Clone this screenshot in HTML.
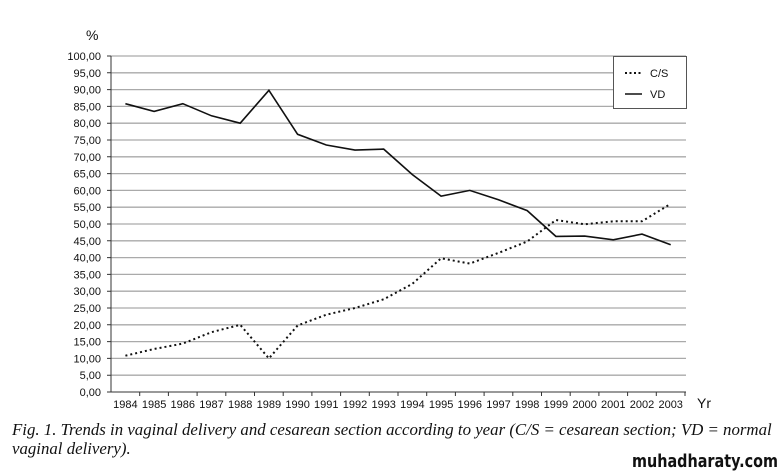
<!DOCTYPE html>
<html><head><meta charset="utf-8"><style>
body{margin:0;background:#fff;width:780px;height:473px;overflow:hidden;position:relative}
.cap{position:absolute;left:12px;font-family:"Liberation Serif",serif;font-style:italic;font-size:17px;white-space:nowrap;transform-origin:0 0;color:#111}
</style></head><body>
<svg width="780" height="473" style="position:absolute;left:0;top:0" font-family="Liberation Sans, sans-serif" font-size="11">
<g stroke="#aaa" stroke-width="1.3">
<line x1="111" x2="686" y1="56" y2="56"/><line x1="111" x2="686" y1="72.8" y2="72.8"/><line x1="111" x2="686" y1="89.6" y2="89.6"/><line x1="111" x2="686" y1="106.4" y2="106.4"/><line x1="111" x2="686" y1="123.2" y2="123.2"/><line x1="111" x2="686" y1="140" y2="140"/><line x1="111" x2="686" y1="156.8" y2="156.8"/><line x1="111" x2="686" y1="173.6" y2="173.6"/><line x1="111" x2="686" y1="190.4" y2="190.4"/><line x1="111" x2="686" y1="207.2" y2="207.2"/><line x1="111" x2="686" y1="224" y2="224"/><line x1="111" x2="686" y1="240.8" y2="240.8"/><line x1="111" x2="686" y1="257.6" y2="257.6"/><line x1="111" x2="686" y1="274.4" y2="274.4"/><line x1="111" x2="686" y1="291.2" y2="291.2"/><line x1="111" x2="686" y1="308" y2="308"/><line x1="111" x2="686" y1="324.8" y2="324.8"/><line x1="111" x2="686" y1="341.6" y2="341.6"/><line x1="111" x2="686" y1="358.4" y2="358.4"/><line x1="111" x2="686" y1="375.2" y2="375.2"/>
</g>
<g stroke="#333" stroke-width="1">
<line x1="111" x2="111" y1="56" y2="392"/><line x1="111" x2="686" y1="392" y2="392"/>
<path d="M139.7 392v4M168.4 392v4M197.1 392v4M225.8 392v4M254.5 392v4M283.2 392v4M311.9 392v4M340.6 392v4M369.3 392v4M398 392v4M426.7 392v4M455.4 392v4M484.1 392v4M512.8 392v4M541.5 392v4M570.2 392v4M598.9 392v4M627.6 392v4M656.3 392v4M685 392v4M107 392h4M107 375.2h4M107 358.4h4M107 341.6h4M107 324.8h4M107 308h4M107 291.2h4M107 274.4h4M107 257.6h4M107 240.8h4M107 224h4M107 207.2h4M107 190.4h4M107 173.6h4M107 156.8h4M107 140h4M107 123.2h4M107 106.4h4M107 89.6h4M107 72.8h4M107 56h4"/>
</g>
<g fill="#111" text-anchor="end">
<text x="101" y="60">100,00</text><text x="101" y="76.8">95,00</text><text x="101" y="93.6">90,00</text><text x="101" y="110.4">85,00</text><text x="101" y="127.2">80,00</text><text x="101" y="144">75,00</text><text x="101" y="160.8">70,00</text><text x="101" y="177.6">65,00</text><text x="101" y="194.4">60,00</text><text x="101" y="211.2">55,00</text><text x="101" y="228">50,00</text><text x="101" y="244.8">45,00</text><text x="101" y="261.6">40,00</text><text x="101" y="278.4">35,00</text><text x="101" y="295.2">30,00</text><text x="101" y="312">25,00</text><text x="101" y="328.8">20,00</text><text x="101" y="345.6">15,00</text><text x="101" y="362.4">10,00</text><text x="101" y="379.2">5,00</text><text x="101" y="396">0,00</text>
</g>
<text x="86" y="40" font-size="14" fill="#111">%</text>
<text x="697" y="408" font-size="14" fill="#111">Yr</text>
<g fill="#111" text-anchor="middle">
<text x="125.4" y="408">1984</text><text x="154.1" y="408">1985</text><text x="182.8" y="408">1986</text><text x="211.5" y="408">1987</text><text x="240.2" y="408">1988</text><text x="268.9" y="408">1989</text><text x="297.6" y="408">1990</text><text x="326.3" y="408">1991</text><text x="355" y="408">1992</text><text x="383.7" y="408">1993</text><text x="412.4" y="408">1994</text><text x="441.1" y="408">1995</text><text x="469.8" y="408">1996</text><text x="498.5" y="408">1997</text><text x="527.2" y="408">1998</text><text x="555.9" y="408">1999</text><text x="584.6" y="408">2000</text><text x="613.3" y="408">2001</text><text x="642" y="408">2002</text><text x="670.7" y="408">2003</text>
</g>
<polyline fill="none" stroke="#111" stroke-width="1.6" points="125.4,103.7 154.1,111.4 182.8,103.7 211.5,115.8 240.2,123.2 268.9,90.3 297.6,134.3 326.3,145 355,150.1 383.7,149.1 412.4,174.6 441.1,196.1 469.8,190.4 498.5,199.8 527.2,210.6 555.9,236.4 584.6,236.1 613.3,239.8 642,234.1 670.7,244.8"/>
<polyline fill="none" stroke="#111" stroke-width="2" stroke-dasharray="2,3" points="125.4,355.7 154.1,349 182.8,343.6 211.5,332.2 240.2,324.8 268.9,358.4 297.6,325.5 326.3,314.7 355,308 383.7,299.3 412.4,283.8 441.1,258.3 469.8,263.6 498.5,252.9 527.2,241.5 555.9,220 584.6,224.3 613.3,221.3 642,221.3 670.7,203.8"/>
<rect x="613.5" y="56.5" width="73" height="52" fill="#fff" stroke="#555"/>
<line x1="625" x2="642" y1="73" y2="73" stroke="#111" stroke-width="2" stroke-dasharray="2,2.5"/>
<line x1="625" x2="642" y1="94" y2="94" stroke="#111" stroke-width="1.6"/>
<text x="650" y="77" fill="#111">C/S</text>
<text x="650" y="98" fill="#111">VD</text>
<text x="632" y="467" textLength="146" lengthAdjust="spacingAndGlyphs" font-family="DejaVu Sans, sans-serif" font-weight="bold" font-size="18" fill="#111">muhadharaty.com</text>
</svg>
<div class="cap" style="top:420px;transform:scaleX(0.99)">Fig. 1. Trends in vaginal delivery and cesarean section according to year (C/S = cesarean section; VD = normal</div>
<div class="cap" style="top:439px;transform:scaleX(0.99)">vaginal delivery).</div>
</body></html>
